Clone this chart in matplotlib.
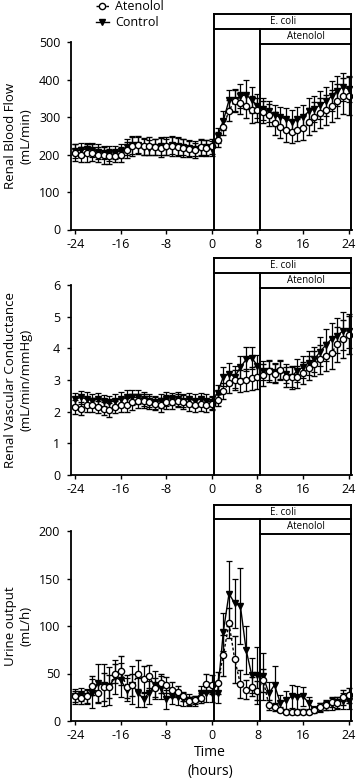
import numpy as np
import matplotlib
matplotlib.use("Agg")
import matplotlib.pyplot as plt
from matplotlib.lines import Line2D

plt.rcParams['font.family'] = ['Open Sans', 'DejaVu Sans']

hours = list(range(-24, 25))
xticks = [-24, -16, -8, 0, 8, 16, 24]

# Renal blood flow (mL/min)
rbf_aten = [205, 200, 205, 205, 200, 198, 195, 197, 200, 212, 222, 226, 222, 222, 220, 218, 222, 222, 220, 218, 215, 212, 220, 218, 222,
            239, 274, 317, 343, 338, 329, 320, 319, 314, 305, 283, 274, 265, 261, 265, 270, 288, 301, 310, 319, 329, 343, 356, 356]
rbf_aten_err = [22, 20, 24, 22, 20, 22, 20, 18, 20, 22, 25, 24, 22, 24, 22, 25, 24, 26, 25, 24, 22, 20, 22, 22, 20,
                20, 22, 28, 30, 30, 32, 35, 32, 30, 30, 30, 30, 32, 30, 30, 32, 35, 38, 40, 40, 42, 45, 48, 50]
rbf_ctrl = [210, 212, 215, 212, 208, 205, 203, 205, 210, 220, 225, 225, 220, 218, 220, 222, 220, 225, 222, 220, 218, 215, 218, 220, 215,
            250, 290, 345, 345, 355, 360, 345, 330, 322, 315, 305, 300, 295, 288, 295, 300, 315, 322, 332, 342, 355, 370, 380, 375]
rbf_ctrl_err = [18, 18, 16, 18, 20, 18, 20, 18, 18, 22, 24, 22, 22, 20, 22, 24, 22, 24, 24, 22, 22, 20, 22, 20, 20,
                20, 25, 28, 30, 32, 38, 35, 32, 30, 28, 28, 28, 30, 30, 32, 32, 35, 35, 38, 38, 40, 40, 38, 35]

# Renal vascular conductance (mL/min/mmHg)
rvc_aten = [2.15, 2.1, 2.2, 2.2, 2.15, 2.1, 2.05, 2.15, 2.2, 2.2, 2.3, 2.35, 2.35, 2.3, 2.25, 2.2, 2.3, 2.3, 2.35, 2.3, 2.25, 2.2, 2.25, 2.2, 2.25,
            2.37, 2.66, 2.89, 3.0, 2.98, 3.0, 3.05, 3.08, 3.15, 3.29, 3.19, 3.32, 3.1, 3.08, 3.1, 3.23, 3.37, 3.52, 3.65, 3.75, 3.86, 4.13, 4.31, 4.42]
rvc_aten_err = [0.22, 0.2, 0.22, 0.22, 0.2, 0.22, 0.22, 0.2, 0.22, 0.22, 0.25, 0.22, 0.22, 0.2, 0.2, 0.22, 0.22, 0.22, 0.2, 0.22, 0.22, 0.2, 0.22, 0.2, 0.2,
                0.2, 0.25, 0.3, 0.32, 0.35, 0.35, 0.35, 0.35, 0.35, 0.35, 0.3, 0.3, 0.32, 0.35, 0.35, 0.35, 0.38, 0.4, 0.45, 0.45, 0.5, 0.55, 0.6, 0.6]
rvc_ctrl = [2.4, 2.45, 2.4, 2.35, 2.4, 2.35, 2.3, 2.35, 2.4, 2.45, 2.45, 2.45, 2.4, 2.35, 2.3, 2.35, 2.4, 2.4, 2.4, 2.35, 2.4, 2.35, 2.4, 2.35, 2.3,
            2.6, 3.1, 3.2, 3.1, 3.4, 3.65, 3.7, 3.45, 3.3, 3.3, 3.25, 3.3, 3.2, 3.1, 3.3, 3.4, 3.55, 3.65, 3.9, 4.1, 4.3, 4.4, 4.55, 4.55]
rvc_ctrl_err = [0.2, 0.2, 0.22, 0.2, 0.2, 0.18, 0.2, 0.2, 0.22, 0.25, 0.25, 0.22, 0.22, 0.2, 0.2, 0.22, 0.22, 0.2, 0.22, 0.2, 0.2, 0.2, 0.2, 0.2, 0.2,
                0.25, 0.3, 0.35, 0.35, 0.35, 0.38, 0.35, 0.35, 0.3, 0.3, 0.3, 0.3, 0.3, 0.32, 0.35, 0.35, 0.38, 0.4, 0.45, 0.5, 0.5, 0.55, 0.6, 0.55]

# Urine output (mL/h)
uo_aten = [26, 24, 26, 37, 29, 36, 36, 50, 53, 36, 38, 49, 44, 47, 35, 40, 38, 33, 31, 26, 21, 22, 24, 39, 38,
           40, 69, 103, 65, 39, 33, 36, 32, 43, 17, 15, 12, 10, 9, 9, 10, 9, 12, 15, 17, 20, 19, 25, 27]
uo_aten_err = [6, 6, 7, 10, 10, 15, 12, 10, 15, 12, 12, 15, 14, 12, 10, 10, 8, 8, 6, 5, 4, 4, 5, 10, 10,
               12, 22, 16, 25, 15, 10, 10, 10, 12, 5, 4, 3, 3, 2, 2, 3, 2, 3, 4, 5, 5, 6, 8, 8]
uo_ctrl = [26, 28, 26, 29, 40, 38, 37, 46, 43, 33, 38, 30, 23, 30, 38, 35, 23, 26, 25, 23, 22, 21, 29, 30, 30,
           29, 94, 134, 124, 121, 75, 48, 48, 47, 29, 38, 19, 22, 26, 25, 26, 19, 12, 14, 16.5, 18, 19.5, 21, 21]
uo_ctrl_err = [8, 7, 8, 15, 20, 22, 20, 18, 18, 12, 20, 15, 8, 12, 15, 12, 10, 8, 8, 7, 6, 5, 8, 10, 10,
               10, 20, 34, 26, 40, 25, 18, 30, 25, 12, 20, 8, 10, 12, 12, 10, 6, 4, 5, 5, 6, 6, 8, 8]

panels = [
    dict(aten=rbf_aten, aten_err=rbf_aten_err, ctrl=rbf_ctrl, ctrl_err=rbf_ctrl_err,
         ylim=(0, 500), yticks=[0, 100, 200, 300, 400, 500], ylabel="Renal Blood Flow\n(mL/min)",
         box=(575, 535, 495), rect=[70.7, 229.5, 352, 42], ylab_y=136),
    dict(aten=rvc_aten, aten_err=rvc_aten_err, ctrl=rvc_ctrl, ctrl_err=rvc_ctrl_err,
         ylim=(0, 6), yticks=[0, 1, 2, 3, 4, 5, 6], ylabel="Renal Vascular Conductance\n(mL/min/mmHg)",
         box=(6.85, 6.37, 5.9), rect=[70.7, 475, 352, 285], ylab_y=380),
    dict(aten=uo_aten, aten_err=uo_aten_err, ctrl=uo_ctrl, ctrl_err=uo_ctrl_err,
         ylim=(0, 200), yticks=[0, 50, 100, 150, 200], ylabel="Urine output\n(mL/h)",
         box=(227, 212.6, 197), rect=[70.7, 721, 352, 531], ylab_y=626),
]

W, H = 356, 778
fig = plt.figure(figsize=(W / 100, H / 100), dpi=100)

x_ecoli0, x_aten0, x_end = 0.4, 8.4, 24.5

for p in panels:
    l, b, r, t = p['rect']
    ax = fig.add_axes([l / W, 1 - b / H, (r - l) / W, (b - t) / H])
    ax.errorbar(hours, p['ctrl'], yerr=p['ctrl_err'], color='black', lw=1.0, ls='-',
                marker='v', ms=4.5, mfc='black', mec='black', capsize=2.5, elinewidth=0.9, capthick=0.9, zorder=3)
    ax.errorbar(hours, p['aten'], yerr=p['aten_err'], color='black', lw=1.0, ls=(0, (2, 1.5)),
                marker='o', ms=4.5, mfc='white', mec='black', mew=1.0, capsize=2.5, elinewidth=0.9, capthick=0.9, zorder=4)
    ax.set_xlim(-24.8, 24.6)
    ax.set_ylim(*p['ylim'])
    ax.set_xticks(xticks)
    ax.set_xticklabels([str(v) for v in xticks])
    ax.set_yticks(p['yticks'])
    for s in ['top', 'right']:
        ax.spines[s].set_visible(False)
    for s in ['left', 'bottom']:
        ax.spines[s].set_linewidth(1.3)
    ax.tick_params(direction='out', length=3, width=1.0, labelsize=9)
    ax.tick_params(axis='y', pad=4.5)
    ax.tick_params(axis='x', pad=3)
    y_top, y_mid, y_bot = p['box']
    kw = dict(color='black', lw=1.4, clip_on=False, zorder=5)
    ax.plot([x_ecoli0, x_ecoli0], [0, y_top], **kw)
    ax.plot([x_end, x_end], [0, y_top], **kw)
    ax.plot([x_aten0, x_aten0], [0, y_mid], **kw)
    ax.plot([x_ecoli0, x_end], [y_top, y_top], **kw)
    ax.plot([x_ecoli0, x_end], [y_mid, y_mid], **kw)
    ax.plot([x_aten0, x_end], [y_bot, y_bot], **kw)
    ax.text((x_ecoli0 + x_end) / 2, (y_top + y_mid) / 2, "E. coli", ha='center', va='center', fontsize=7)
    ax.text((x_aten0 + x_end) / 2, (y_mid + y_bot) / 2, "Atenolol", ha='center', va='center', fontsize=7)
    fig.text(18 / W, 1 - p['ylab_y'] / H, p['ylabel'], rotation=90, ha='center', va='center',
             multialignment='center', fontsize=9.5, linespacing=1.25)

fig.text(210 / W, 1 - 762 / H, "Time\n(hours)", ha='center', va='center', fontsize=10, linespacing=1.3)

handles = [Line2D([], [], color='black', lw=1.0, ls=(0, (2, 1.5)), marker='o', ms=4.5, mfc='white', mec='black'),
           Line2D([], [], color='black', lw=1.0, ls='-', marker='v', ms=4.5, mfc='black', mec='black')]
fig.legend(handles, ["Atenolol", "Control"], loc='upper left', bbox_to_anchor=(96 / W, 1.0),
           frameon=False, handlelength=1.0, handletextpad=0.5, labelspacing=0.25,
           borderpad=0, borderaxespad=0, fontsize=9)

fig.savefig("out.png", dpi=100)
